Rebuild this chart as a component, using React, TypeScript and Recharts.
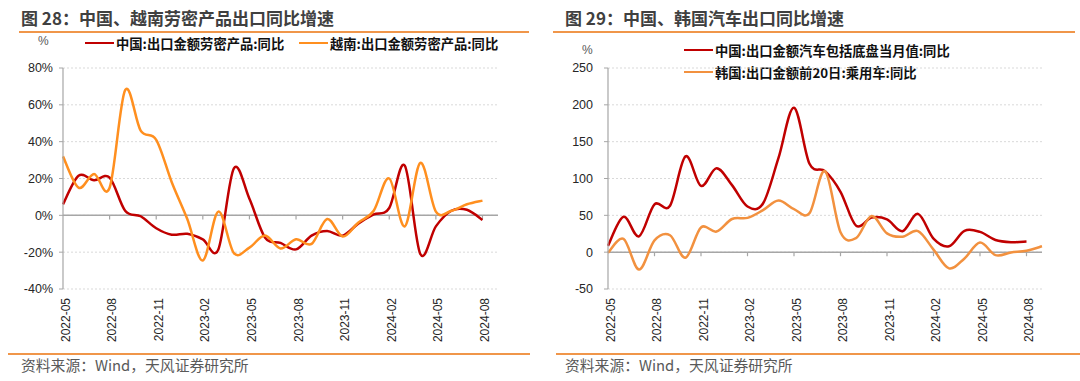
import { CartesianGrid, Line, LineChart, ReferenceLine, XAxis, YAxis } from "recharts";

const MONTHS = [
  "2022-05", "2022-06", "2022-07", "2022-08", "2022-09", "2022-10", "2022-11", "2022-12",
  "2023-01", "2023-02", "2023-03", "2023-04", "2023-05", "2023-06", "2023-07", "2023-08",
  "2023-09", "2023-10", "2023-11", "2023-12", "2024-01", "2024-02", "2024-03", "2024-04",
  "2024-05", "2024-06", "2024-07", "2024-08", "2024-09",
];

// 图28 劳密产品出口同比 (%)
const CN_LABOR = [6, 21.5, 19, 20.5, 2.5, -0.5, -7, -10.5, -10, -13, -18.5, 25.5, 9, -12, -15, -18.5, -11, -8.5, -11, -4.5, 0.5, 4, 27, -21, -6, 2.5, 3, -2.5, null];
const VN_LABOR = [32, 15, 22.5, 15, 68, 46, 41, 18, -2, -24.5, 2, -20.5, -17.5, -11, -18, -13, -15.5, -2, -11.5, -4, 2.5, 20, -6, 28.5, 2, 2.5, 6, 8, null];

// 图29 汽车出口同比 (%)
const CN_AUTO = [8.5, 48, 21.5, 65, 63, 130, 90, 114, 91, 62, 66, 128, 196, 120, 110, 82, 36, 47, 44.5, 28.5, 52, 18.5, 8, 29, 27.5, 16.5, 13.5, 14.5, null];
const KR_CAR = [-1, 18, -23.5, 16, 23, -7.5, 33.5, 28, 45, 46.5, 57, 70, 58.5, 53, 110, 27, 19, 49, 25.5, 21, 28.5, 3.5, -22, -8.5, 13, -4, -0.5, 2, 8];

const LEFT_TICKS = [-40, -20, 0, 20, 40, 60, 80];
const RIGHT_TICKS = [-50, 0, 50, 100, 150, 200, 250];

const LEFT_NAMES = ["中国:出口金额劳密产品:同比", "越南:出口金额劳密产品:同比"];
const RIGHT_NAMES = ["中国:出口金额汽车包括底盘当月值:同比", "韩国:出口金额前20日:乘用车:同比"];

const RED = "#C00000";
const ORANGE_L = "#FF8F1F";
const ORANGE_R = "#F2913F";
const ACCENT = "#F0964A";
const AXIS = "#A6A6A6";
const CJK = "'Noto Sans CJK SC', 'Noto Sans', sans-serif";
const LATIN = "'Liberation Sans', Arial, sans-serif";

const leftData = MONTHS.map((month, i) => ({ month, cn: CN_LABOR[i], vn: VN_LABOR[i] }));
const rightData = MONTHS.map((month, i) => ({ month, cn: CN_AUTO[i], kr: KR_CAR[i] }));
const markMonths = MONTHS.filter((_, i) => i > 0 && i % 3 === 0 && i < MONTHS.length - 1);

// excel-like smoothed line (catmull-rom through every point)
function excelSmooth(ctx: any) {
  let pts: number[][] = [];
  return {
    areaStart() {},
    areaEnd() {},
    lineStart() {
      pts = [];
    },
    point(x: number, y: number) {
      pts.push([+x, +y]);
    },
    lineEnd() {
      const n = pts.length;
      if (!n) return;
      ctx.moveTo(pts[0][0], pts[0][1]);
      for (let i = 0; i < n - 1; i++) {
        const p0 = pts[Math.max(0, i - 1)];
        const p1 = pts[i];
        const p2 = pts[i + 1];
        const p3 = pts[Math.min(n - 1, i + 2)];
        ctx.bezierCurveTo(
          p1[0] + (p2[0] - p0[0]) / 6,
          p1[1] + (p2[1] - p0[1]) / 6,
          p2[0] - (p3[0] - p1[0]) / 6,
          p2[1] - (p3[1] - p1[1]) / 6,
          p2[0],
          p2[1]
        );
      }
    },
  };
}

function MonthTick({ x, y, payload }: any) {
  return (
    <text
      x={x}
      y={y}
      dy={6.5}
      transform={`rotate(-90 ${x} ${y})`}
      textAnchor="end"
      fontSize={12}
      fill="#262626"
      fontFamily={LATIN}
    >
      {payload.value}
    </text>
  );
}

function LegendRow({ color, label, left, top }: { color: string; label: string; left: number; top: number }) {
  return (
    <div style={{ position: "absolute", left, top, height: 20, display: "flex", alignItems: "center" }}>
      <div style={{ width: 29, height: 2.5, background: color, marginRight: 2 }} />
      <span style={{ fontSize: 13.3, fontWeight: 700, color: "#111", fontFamily: CJK, whiteSpace: "nowrap" }}>
        {label}
      </span>
    </div>
  );
}

function Panel({
  left,
  title,
  children,
  lineLeft,
  lineWidth,
  footLeft,
  footWidth,
}: any) {
  return (
    <>
      <div
        style={{
          position: "absolute",
          left: left,
          top: 6,
          fontSize: 17,
          fontWeight: 600,
          color: "#404040",
          fontFamily: CJK,
          whiteSpace: "nowrap",
          lineHeight: "24px",
        }}
      >
        {title}
      </div>
      <div style={{ position: "absolute", left: lineLeft, top: 31, width: lineWidth, height: 2, background: ACCENT }} />
      {children}
      <div style={{ position: "absolute", left: footLeft, top: 353, width: footWidth, height: 2, background: ACCENT }} />
      <div
        style={{
          position: "absolute",
          left: left,
          top: 355,
          fontSize: 14.8,
          color: "#595959",
          fontFamily: CJK,
          whiteSpace: "nowrap",
          lineHeight: "20px",
        }}
      >
        资料来源：Wind，天风证券研究所
      </div>
    </>
  );
}

export default function App() {
  return (
    <div style={{ position: "absolute", left: 0, top: 0, width: 1080, height: 381, background: "#fff", overflow: "hidden" }}>
      <Panel left={21} title="图 28：中国、越南劳密产品出口同比增速" lineLeft={19} lineWidth={510} footLeft={8} footWidth={522}>
        <div style={{ position: "absolute", left: 38, top: 34, fontSize: 12, color: "#595959", fontFamily: LATIN }}>%</div>
        <LegendRow color={RED} label={LEFT_NAMES[0]} left={85} top={33} />
        <LegendRow color={ORANGE_L} label={LEFT_NAMES[1]} left={299} top={33} />
        <div style={{ position: "absolute", left: 0, top: 0 }}>
          <LineChart width={540} height={381} data={leftData} margin={{ top: 68, right: 42, bottom: 32, left: 0 }}>
            <CartesianGrid vertical={false} stroke="#D9D9D9" strokeDasharray="2 2" />
            <XAxis
              dataKey="month"
              interval={2}
              axisLine={false}
              tickLine={false}
              tickSize={0}
              tickMargin={9}
              height={60}
              tick={<MonthTick />}
            />
            <YAxis
              domain={[-40, 80]}
              ticks={LEFT_TICKS}
              width={63}
              tickFormatter={(v: number) => `${v}%`}
              axisLine={{ stroke: AXIS, strokeWidth: 1.2 }}
              tickLine={{ stroke: AXIS }}
              tickSize={4}
              tickMargin={6}
              tick={{ fontSize: 12.5, fill: "#262626", fontFamily: LATIN }}
            />
            <ReferenceLine y={0} stroke={AXIS} strokeWidth={1.5} />
            {markMonths.map((m) => (
              <ReferenceLine
                key={m}
                segment={[
                  { x: m, y: 0 },
                  { x: m, y: -2.2 },
                ]}
                stroke={AXIS}
                strokeWidth={1.2}
              />
            ))}
            <Line dataKey="cn" name={LEFT_NAMES[0]} stroke={RED} strokeWidth={2.5} dot={false} type={excelSmooth as any} isAnimationActive={false} />
            <Line dataKey="vn" name={LEFT_NAMES[1]} stroke={ORANGE_L} strokeWidth={2.5} dot={false} type={excelSmooth as any} isAnimationActive={false} />
          </LineChart>
        </div>
      </Panel>

      <Panel left={565} title="图 29：中国、韩国汽车出口同比增速" lineLeft={553} lineWidth={522} footLeft={556} footWidth={524}>
        <div style={{ position: "absolute", left: 582, top: 43, fontSize: 12, color: "#595959", fontFamily: LATIN }}>%</div>
        <LegendRow color={RED} label={RIGHT_NAMES[0]} left={684} top={40} />
        <LegendRow color={ORANGE_R} label={RIGHT_NAMES[1]} left={684} top={62} />
        <div style={{ position: "absolute", left: 540, top: 0 }}>
          <LineChart width={540} height={381} data={rightData} margin={{ top: 68, right: 38, bottom: 32, left: 0 }}>
            <CartesianGrid vertical={false} stroke="#D9D9D9" strokeDasharray="2 2" />
            <XAxis
              dataKey="month"
              interval={2}
              axisLine={false}
              tickLine={false}
              tickSize={0}
              tickMargin={9}
              height={60}
              tick={<MonthTick />}
            />
            <YAxis
              domain={[-50, 250]}
              ticks={RIGHT_TICKS}
              width={68}
              axisLine={{ stroke: AXIS, strokeWidth: 1.2 }}
              tickLine={{ stroke: AXIS }}
              tickSize={4}
              tickMargin={11}
              tick={{ fontSize: 12.5, fill: "#262626", fontFamily: LATIN }}
            />
            <ReferenceLine y={0} stroke={AXIS} strokeWidth={1.5} />
            {markMonths.map((m) => (
              <ReferenceLine
                key={m}
                segment={[
                  { x: m, y: 0 },
                  { x: m, y: -5.5 },
                ]}
                stroke={AXIS}
                strokeWidth={1.2}
              />
            ))}
            <Line dataKey="cn" name={RIGHT_NAMES[0]} stroke={RED} strokeWidth={2.5} dot={false} type={excelSmooth as any} isAnimationActive={false} />
            <Line dataKey="kr" name={RIGHT_NAMES[1]} stroke={ORANGE_R} strokeWidth={2.5} dot={false} type={excelSmooth as any} isAnimationActive={false} />
          </LineChart>
        </div>
      </Panel>
    </div>
  );
}
